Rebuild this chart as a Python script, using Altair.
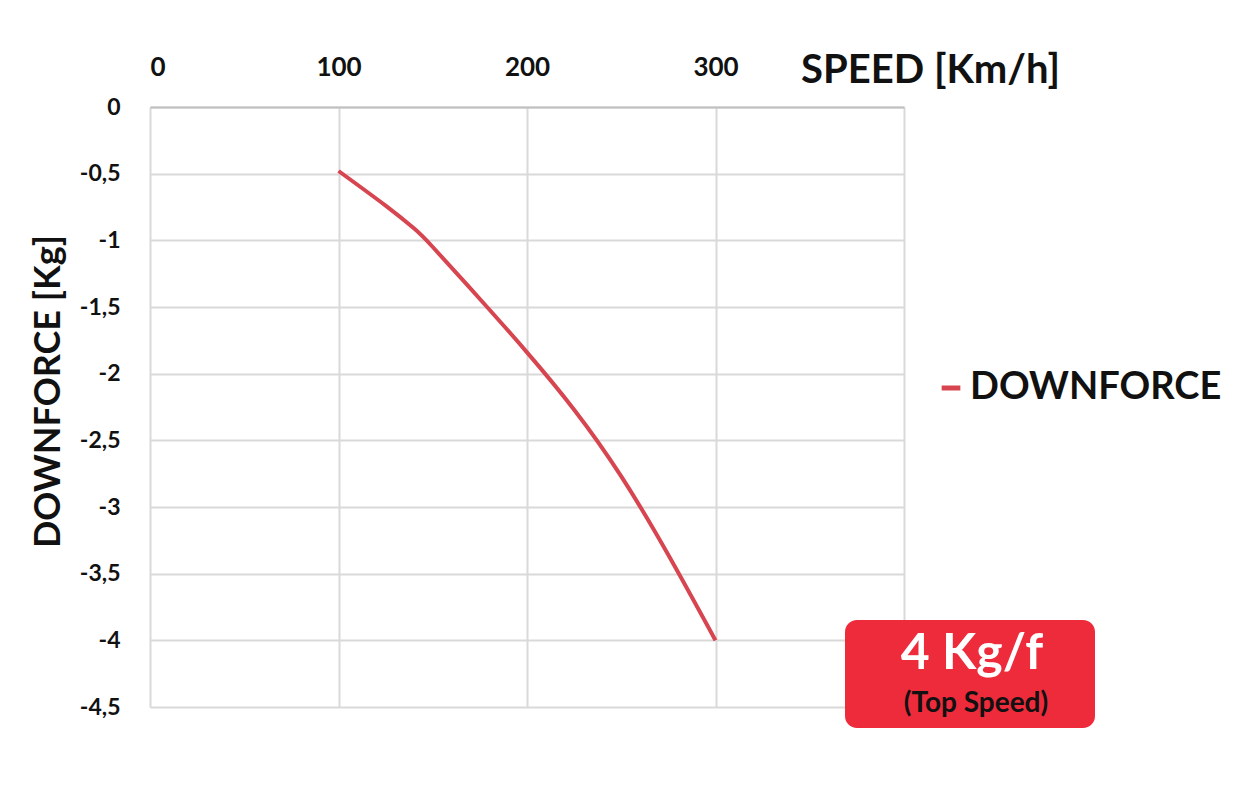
import altair as alt
import pandas as pd

speed = [100, 125, 140, 150, 175, 200, 225, 250, 275, 300]
downforce = [-0.48, -0.74, -0.91, -1.05, -1.44, -1.84, -2.27, -2.77, -3.36, -4.0]
series = ["DOWNFORCE"] * len(speed)

df = pd.DataFrame({"speed": speed, "downforce": downforce, "series": series})

FONT = "Lato"
RED = "#D64550"

x = alt.X(
    "speed:Q",
    scale=alt.Scale(domain=[0, 400], nice=False),
    axis=alt.Axis(
        orient="top",
        values=[0, 100, 200, 300, 400],
        labelExpr="datum.value == 400 ? '' : datum.label",
        labelFont=FONT, labelFontSize=26, labelFontWeight="bold", labelColor="#111111",
        labelPadding=27, ticks=False, domain=True, domainColor="#bfbfbf", domainWidth=2,
        gridColor="#d9d9d9", gridWidth=2,
        title="SPEED [Km/h]", titleFont=FONT, titleFontSize=40, titleFontWeight="bold",
        titleColor="#111111", titleX=780, titleY=-37, titleAlign="center", titleBaseline="middle",
    ),
)
y = alt.Y(
    "downforce:Q",
    scale=alt.Scale(domain=[-4.5, 0], nice=False),
    axis=alt.Axis(
        values=[0, -0.5, -1, -1.5, -2, -2.5, -3, -3.5, -4, -4.5],
        labelExpr="replace(toString(datum.value), '.', ',')",
        labelFont=FONT, labelFontSize=23, labelFontWeight="bold", labelColor="#111111",
        labelPadding=30, ticks=False, domain=False,
        gridColor="#d9d9d9", gridWidth=2,
        title="DOWNFORCE [Kg]", titleFont=FONT, titleFontSize=36, titleFontWeight="bold",
        titleColor="#111111", titleX=-102, titleY=284, titleAlign="center", titleBaseline="middle",
        titleAngle=-90,
    ),
)

line = alt.Chart(df).mark_line(strokeWidth=4, interpolate="natural", clip=False).encode(
    x=x,
    y=y,
    color=alt.Color(
        "series:N",
        scale=alt.Scale(domain=["DOWNFORCE"], range=[RED]),
        legend=alt.Legend(
            title=None, orient="none", legendX=782, legendY=262,
            symbolType="stroke", symbolStrokeWidth=5, symbolSize=350,
            labelFont=FONT, labelFontSize=38, labelFontWeight="bold", labelColor="#111111",
            labelOffset=0, labelLimit=400,
        ),
    ),
)

box = alt.Chart(pd.DataFrame({"a": [0]})).mark_rect(
    color="#EE2B3B", cornerRadius=12, clip=False
).encode(
    x=alt.value(695), x2=alt.value(945), y=alt.value(513), y2=alt.value(621)
)
big = alt.Chart(pd.DataFrame({"t": ["4 Kg/f"]})).mark_text(
    font="Lato", fontSize=50, fontWeight="bold", color="white", align="center", baseline="middle",
    clip=False,
).encode(text="t:N", x=alt.value(822), y=alt.value(547))
small = alt.Chart(pd.DataFrame({"t": ["(Top Speed)"]})).mark_text(
    font="Lato", fontSize=28, fontWeight="bold", color="#111111", align="center", baseline="middle",
    clip=False,
).encode(text="t:N", x=alt.value(826), y=alt.value(597))

chart = alt.layer(line, box, big, small).properties(
    width=754, height=600,
    autosize=alt.AutoSizeParams(type="none"),
    padding={"left": 142, "top": 99, "right": 338, "bottom": 76},
    background="white",
).configure_view(stroke=None)

chart.save("out.html", embed_options={"renderer": "svg", "actions": False})
